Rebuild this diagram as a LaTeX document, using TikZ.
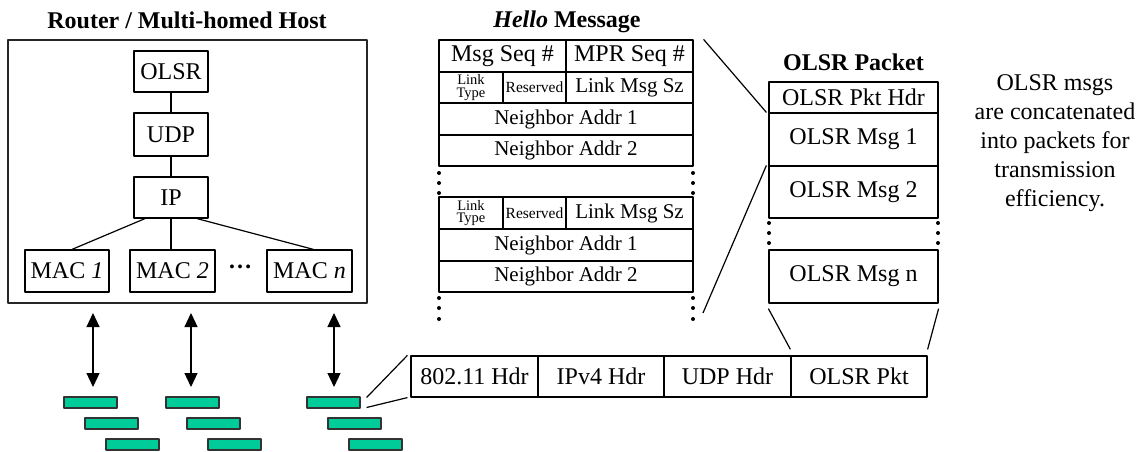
\documentclass[tikz,border=0pt]{standalone}
\usepackage{fontspec}
\setmainfont{Liberation Serif}
\usetikzlibrary{arrows.meta}
\definecolor{bargreen}{RGB}{0,204,153}
\newcommand{\bigtxt}{\fontsize{24}{29}\selectfont}
\newcommand{\midtxt}{\fontsize{21}{24}\selectfont}
\newcommand{\tinytxt}{\fontsize{14.5}{12.5}\selectfont}
\tikzset{
	cell/.style={draw, rectangle, inner sep=0pt, line width=1.2pt},
	bar/.style={draw=black!80, fill=bargreen, rectangle, inner sep=0pt, line width=1.2pt, minimum width=53pt, minimum height=11pt},
	ttl/.style={font=\bigtxt\bfseries}
}
\begin{document}
\begin{tikzpicture}[x=1pt, y=-1pt, line join=round, font=\bigtxt, line width=1.2pt, >={Triangle[width=13pt,length=14pt]}]
	\useasboundingbox (0,0) rectangle (1144,452);
	% host
	\node[ttl] (hosttitle) at (187,20) {Router / Multi-homed Host};
	\node[cell, draw=black!85, minimum width=359pt, minimum height=263pt] (host) at (187.5,171.5) {};
	\node[cell, minimum width=74pt, minimum height=41pt] (olsr) at (171,71.5) {OLSR};
	\node[cell, minimum width=74pt, minimum height=43pt] (udp) at (171,134.5) {UDP};
	\node[cell, minimum width=74pt, minimum height=41pt] (ip) at (171,197.5) {IP};
	\node[cell, minimum width=84pt, minimum height=42pt] (mac1) at (67,271) {MAC \textit{1}};
	\node[cell, minimum width=85pt, minimum height=42pt] (mac2) at (172.5,271) {MAC \textit{2}};
	\node[cell, minimum width=85pt, minimum height=42pt] (macn) at (309.5,271) {MAC \textit{n}};
	\node (macdots) at (240,267) {\textbf{\ldots}};
	\draw (olsr) -- (udp);
	\draw (udp) -- (ip);
	\draw ([xshift=-26pt]ip.south) -- ([xshift=5pt]mac1.north);
	\draw (ip.south) -- (ip.south |- mac2.north);
	\draw ([xshift=26pt]ip.south) -- ([xshift=4pt]macn.north);
	% links to the air
	\foreach \i/\x in {1/93, 2/191, 3/334} {
		\coordinate (up\i) at (\x,313);
		\coordinate (dn\i) at (\x,387);
		\draw[<->] (up\i) -- (dn\i);
	}
	\foreach \g/\x in {1/64, 2/166, 3/307}
		\foreach \k in {0,1,2}
			\node[bar] (bar\g\k) at (\x+26.5+21*\k, 402.5+21*\k) {};
	% frame
	\node[cell, minimum width=127pt, minimum height=41pt] (f1) at (474.5,376.5) {802.11 Hdr};
	\node[cell, minimum width=126pt, minimum height=41pt] (f2) at (601,376.5) {IPv4 Hdr};
	\node[cell, minimum width=127pt, minimum height=41pt] (f3) at (727.5,376.5) {UDP Hdr};
	\node[cell, minimum width=136pt, minimum height=41pt] (f4) at (859,376.5) {OLSR Pkt};
	\draw ([xshift=6pt,yshift=5pt]bar30.east) -- ([xshift=-3pt]f1.north west);
	\draw ([xshift=6pt,yshift=-5pt]bar30.east) -- ([xshift=-3pt]f1.south west);
	% hello message
	\node[ttl] (hellotitle) at (567,22) {\textit{Hello} Message};
	\node[cell, minimum width=127pt, minimum height=32pt] (hmsg) at (502.5,56) {Msg Seq \#};
	\node[cell, minimum width=127pt, minimum height=32pt] (hmpr) at (629.5,56) {MPR Seq \#};
	\node[cell, minimum width=64pt, minimum height=31pt, align=center, font=\tinytxt] (hlt) at (471,87.5) {Link\\Type};
	\node[cell, minimum width=63pt, minimum height=31pt, font=\fontsize{15.5}{18}\selectfont] (hres) at (534.5,87.5) {Reserved};
	\node[cell, minimum width=127pt, minimum height=31pt, font=\midtxt] (hlms) at (629.5,87.5) {Link Msg Sz};
	\node[cell, minimum width=254pt, minimum height=32pt, font=\midtxt] (hna1) at (566,119) {Neighbor Addr 1};
	\node[cell, minimum width=254pt, minimum height=31pt, font=\midtxt] (hna2) at (566,150.5) {Neighbor Addr 2};
	\node[cell, minimum width=64pt, minimum height=32pt, align=center, font=\tinytxt] (hlt2) at (471,213) {Link\\Type};
	\node[cell, minimum width=63pt, minimum height=32pt, font=\fontsize{15.5}{18}\selectfont] (hres2) at (534.5,213) {Reserved};
	\node[cell, minimum width=127pt, minimum height=32pt, font=\midtxt] (hlms2) at (629.5,213) {Link Msg Sz};
	\node[cell, minimum width=254pt, minimum height=32pt, font=\midtxt] (hnb1) at (566,245) {Neighbor Addr 1};
	\node[cell, minimum width=254pt, minimum height=31pt, font=\midtxt] (hnb2) at (566,276.5) {Neighbor Addr 2};
	\foreach \x in {439,693}
		\foreach \y in {173,183,193,298,308,319}
			\fill (\x,\y) circle(2);
	% olsr packet
	\node[ttl] (pkttitle) at (853.5,62) {OLSR Packet};
	\node[cell, minimum width=169pt, minimum height=31pt] (phdr) at (853.5,97.5) {OLSR Pkt Hdr};
	\node[cell, minimum width=169pt, minimum height=53pt] (pmsg1) at (853.5,139.5) {OLSR Msg 1};
	\node[cell, minimum width=169pt, minimum height=52pt] (pmsg2) at (853.5,192) {OLSR Msg 2};
	\node[cell, minimum width=169pt, minimum height=53pt] (pmsgn) at (853.5,276.5) {OLSR Msg n};
	\foreach \x in {769,938}
		\foreach \y in {223,233,243}
			\fill (\x,\y) circle(2);
	\coordinate (hend) at (703,313);
	\draw ([xshift=10pt]hmpr.north east) -- ([xshift=-2pt]pmsg1.north west);
	\draw (hend) -- ([xshift=-2pt]pmsg2.north west);
	\draw ([yshift=-5pt]pmsgn.south west) -- ([yshift=6pt]f4.north west);
	\draw ([yshift=-5pt]pmsgn.south east) -- ([yshift=6pt]f4.north east);
	% note
	\node[align=center] (note) at (1055,143) {OLSR msgs\\are concatenated\\into packets for\\transmission\\efficiency.};
\end{tikzpicture}
\end{document}
